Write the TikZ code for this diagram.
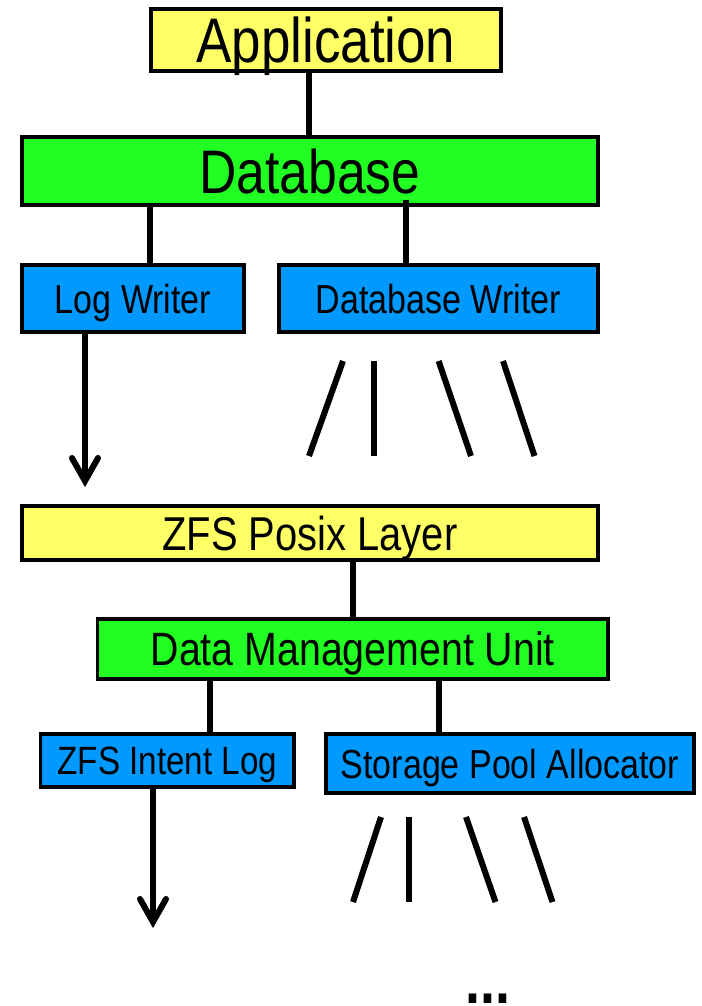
\documentclass[tikz,border=0pt]{standalone}
\usepackage{fontspec}
\usetikzlibrary{calc}
\newfontfamily\arialn[FakeStretch=0.84]{Liberation Sans}
\definecolor{boxyellow}{HTML}{FFFF66}
\definecolor{boxgreen}{HTML}{22FF22}
\definecolor{boxblue}{HTML}{0099FF}
\begin{document}
\begin{tikzpicture}[x=1pt,y=-1pt,
  box/.style={draw=black, line width=3.5pt, inner sep=0pt, text depth=0pt, anchor=center},
  conn/.style={draw=black, line width=6pt},
  slash/.style={draw=black, line width=6pt},
  barb/.style={draw=black, line width=6pt, line cap=round, line join=miter}]
\useasboundingbox (0,0) rectangle (701,1006);
% boxes
\node[box, fill=boxyellow, minimum width=350pt, minimum height=62pt,
  font=\arialn\fontsize{63}{63}\selectfont, text height=45.1pt] (app) at (326,40) {Application};
\node[box, fill=boxgreen, minimum width=576pt, minimum height=68pt,
  font=\arialn\fontsize{61.5}{61.5}\selectfont, text height=44pt] (db) at (310,171) {Database};
\node[box, fill=boxblue, minimum width=222pt, minimum height=67pt,
  font=\arialn\fontsize{40.5}{40.5}\selectfont, text height=29pt] (lw) at (133,298.5) {Log Writer};
\node[box, fill=boxblue, minimum width=319pt, minimum height=67pt,
  font=\arialn\fontsize{40.5}{40.5}\selectfont, text height=29pt] (dbw) at (438.5,298.5) {Database Writer};
\node[box, fill=boxyellow, minimum width=576pt, minimum height=54pt,
  font=\arialn\fontsize{47.5}{47.5}\selectfont, text height=34pt] (zpl) at (310,533) {ZFS Posix Layer};
\node[box, fill=boxgreen, minimum width=510.5pt, minimum height=60pt,
  font=\arialn\fontsize{46.8}{46.8}\selectfont, text height=33.5pt] (dmu) at (352.75,649) {Data Management Unit};
\node[box, fill=boxblue, minimum width=253.5pt, minimum height=53pt,
  font=\arialn\fontsize{39.5}{39.5}\selectfont, text height=28.3pt] (zil) at (167.25,760.5) {ZFS Intent Log};
\node[box, fill=boxblue, minimum width=368pt, minimum height=59pt,
  font=\arialn\fontsize{40.5}{40.5}\selectfont, text height=29pt] (spa) at (510,763.5) {Storage Pool Allocator};
% connectors
\draw[conn] ([xshift=-17pt]app.south) -- ([xshift=-1pt]db.north);
\draw[conn] ([xshift=-160.5pt]db.south) -- ([xshift=16.5pt]lw.north);
\draw[conn] ([xshift=96pt,yshift=7pt]db.south) -- ([xshift=-32.5pt]dbw.north);
\draw[conn] ([xshift=43pt]zpl.south) -- ([xshift=0.25pt]dmu.north);
\draw[conn] ([xshift=-142.75pt]dmu.south) -- ([xshift=42.75pt]zil.north);
\draw[conn] ([xshift=85.85pt]dmu.south) -- ([xshift=-71.4pt]spa.north);
% arrows (shaft + open barbs)
\coordinate (tip1) at (85,481);
\coordinate (tip2) at (153,922);
\draw[conn] ([xshift=-48pt]lw.south) -- (tip1);
\draw[barb] ($(tip1)+(-13,-23)$) -- (tip1) -- ($(tip1)+(13,-23)$);
\draw[conn] ([xshift=-14.25pt]zil.south) -- (tip2);
\draw[barb] ($(tip2)+(-13,-23)$) -- (tip2) -- ($(tip2)+(13,-23)$);
% fan-out strokes
\draw[slash] (343,361) -- (309,456);
\draw[slash] (373.5,361) -- (373.5,456);
\draw[slash] (438.6,361) -- (471,456);
\draw[slash] (503,361) -- (534.5,456);
\draw[slash] (381,817) -- (353,902);
\draw[slash] (409,817) -- (409,902);
\draw[slash] (466,817) -- (495.5,902);
\draw[slash] (524,817) -- (552.5,902);
% ellipsis
\node[font=\arialn\bfseries\fontsize{64}{64}\selectfont, anchor=base, inner sep=0pt] (dots) at (488,1003) {...};
\end{tikzpicture}
\end{document}
